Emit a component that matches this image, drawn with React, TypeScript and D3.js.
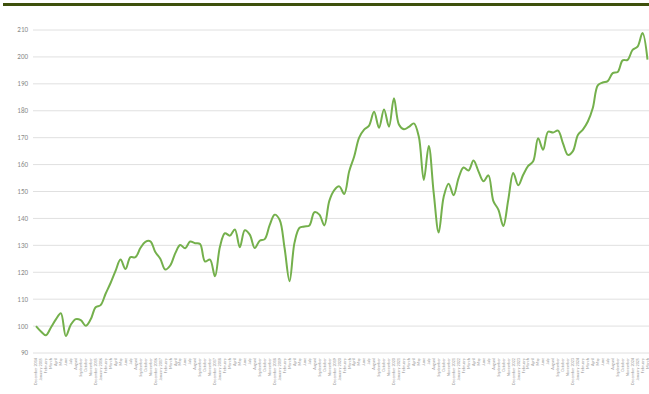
import React from "react";
import * as d3 from "d3";

const W = 649;
const H = 394;

const values: number[] = [
  100, 98, 96.6, 99.5, 102.5, 104.8, 96.3, 100.5, 102.6, 102.2,
  100.1, 102.5, 107, 107.8, 112, 116, 120.5, 124.7, 121.2, 125.6,
  125.6, 129, 131.3, 131.5, 127.5, 125, 121, 122.5, 127, 130.1,
  128.9, 131.4, 130.8, 130.5, 124, 124.7, 118.5, 129.5, 134.5, 133.6,
  135.9, 129.3, 135.6, 134, 129, 131.7, 132.3, 137.5, 141.4, 139.5,
  129, 116.7, 131, 136.5, 137, 137.4, 142.3, 141.4, 137.4, 146.5,
  150.5, 151.9, 149.1, 157.5, 163, 170, 173, 174.5, 179.6, 173.7,
  180.5, 174.1, 184.6, 174.9, 173.1, 174, 175.3, 170.4, 154.3, 166.9,
  149.4, 134.8, 148, 152.9, 148.6, 155, 158.9, 157.8, 161.5, 157.5,
  153.8, 156, 146.4, 143.3, 137.2, 147, 156.9, 152.3, 156.2, 159.5,
  161.2, 169.8, 165.5, 172.2, 171.9, 172.6, 167.9, 163.6, 165, 171,
  173, 176, 181, 189.4, 190.5, 191, 194, 194.4, 198.7, 198.9,
  202.6, 203.8, 208.9, 199,
];

const monthNames = [
  "January", "February", "March", "April", "May", "June",
  "July", "August", "September", "October", "November", "December",
];
const startYear = 2014;
const startMonth = 11; // December
const labels: string[] = values.map((_, i) => {
  const m = (startMonth + i) % 12;
  const y = startYear + Math.floor((startMonth + i) / 12);
  return m === 11 || m === 0 ? `${monthNames[m]} ${y}` : monthNames[m];
});

const yTicks: number[] = [90, 100, 110, 120, 130, 140, 150, 160, 170, 180, 190, 200, 210];

export default function App() {
  const x = d3
    .scalePoint<number>()
    .domain(values.map((_, i) => i))
    .range([36, 647.5]);
  const y = d3.scaleLinear().domain([90, 210]).range([353, 30]);
  const line = d3
    .line<number>()
    .x((_, i) => x(i) as number)
    .y((d) => y(d))
    .curve(d3.curveCatmullRom.alpha(0.5));

  return (
    <svg
      width={W}
      height={H}
      style={{ position: "absolute", left: 0, top: 0, display: "block", background: "#fff" }}
      fontFamily="Calibri, Carlito, 'Liberation Sans', Arial, sans-serif"
    >
      <rect x={3} y={3} width={W - 3} height={3} fill="#3e500c" />
      {yTicks.map((t) => (
        <g key={t}>
          <line x1={33} x2={W} y1={y(t)} y2={y(t)} stroke="#e0e0e0" strokeWidth={1} />
          <text x={28} y={y(t)} dy="0.35em" textAnchor="end" fontSize={7} fill="#8a8a8a">
            {t}
          </text>
        </g>
      ))}
      <path d={line(values) || ""} fill="none" stroke="#74b04c" strokeWidth={2} />
      {labels.map((l, i) => (
        <text
          key={i}
          transform={`translate(${(x(i) as number) + 1.3},${358}) rotate(-90)`}
          textAnchor="end"
          fontSize={4.2}
          fill="#9a9a9a"
        >
          {l}
        </text>
      ))}
    </svg>
  );
}
